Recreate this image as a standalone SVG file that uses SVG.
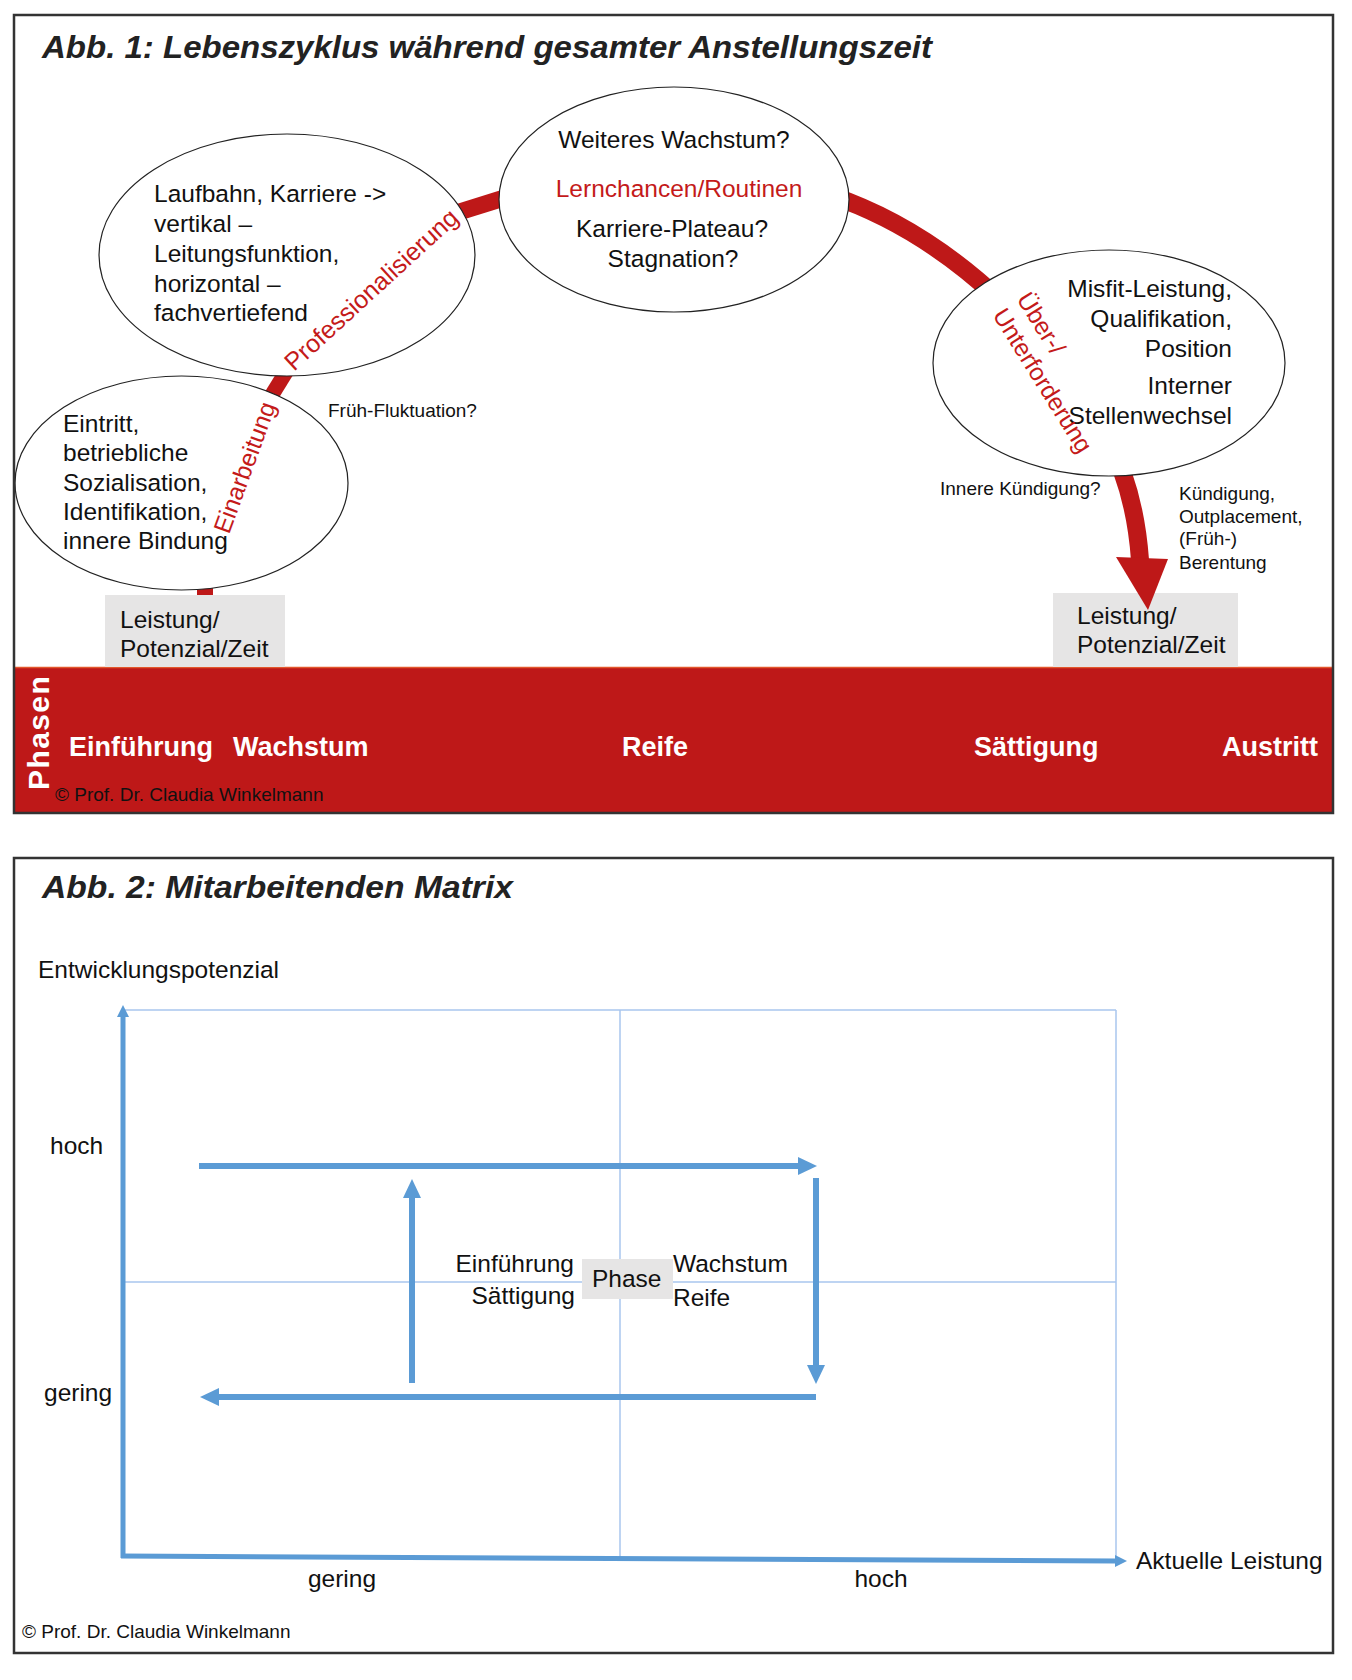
<svg xmlns="http://www.w3.org/2000/svg" width="1352" height="1680" viewBox="0 0 1352 1680">
<style>
 text { font-family: "Liberation Sans", Arial, Helvetica, sans-serif; fill:#111; }
 .t { font-size:24.5px; }
 .s { font-size:19px; }
 .red { fill:#C41A1A; }
 .title { font-size:31px; font-weight:bold; font-style:italic; fill:#222; }
 .phase { font-size:27px; font-weight:bold; fill:#fff; }
 .ell { fill:#fff; stroke:#222; stroke-width:1.2; }
 .box { fill:#E6E5E5; }
 .band { fill:none; stroke:#BE1818; }
 .frame { fill:none; stroke:#333; stroke-width:2.5; }
 .grid { stroke:#A9C6EE; stroke-width:1.5; fill:none; }
 .blue { stroke:#5B9BD5; fill:none; }
</style>
<defs>
 <marker id="bh" markerUnits="userSpaceOnUse" markerWidth="20" markerHeight="20" viewBox="0 -10 20 20" refX="0" refY="0" orient="auto"><path d="M0,-9 L19,0 L0,9 z" fill="#5B9BD5"/></marker>
 <marker id="ah" markerUnits="userSpaceOnUse" markerWidth="14" markerHeight="14" viewBox="0 -7 14 14" refX="0" refY="0" orient="auto"><path d="M0,-6 L12,0 L0,6 z" fill="#5B9BD5"/></marker>
</defs>
<rect x="0" y="0" width="1352" height="1680" fill="#fff"/>

<!-- ===== Figure 1 ===== -->
<g id="fig1">
 <rect x="15" y="667" width="1318" height="145" fill="#BE1818"/>
 <line x1="15" y1="667.5" x2="1333" y2="667.5" stroke="#E2572C" stroke-width="1.5"/>
 <text class="title" x="42" y="58" textLength="890" lengthAdjust="spacingAndGlyphs">Abb. 1: Lebenszyklus während gesamter Anstellungszeit</text>
</g>

<g id="phases">
 <text transform="translate(49,790) rotate(-90)" style="font-size:30px;font-weight:bold;fill:#fff;letter-spacing:1.4px">Phasen</text>
 <text class="phase" x="69" y="756">Einführung</text>
 <text class="phase" x="233" y="756">Wachstum</text>
 <text class="phase" x="622" y="756">Reife</text>
 <text class="phase" x="974" y="756">Sättigung</text>
 <text class="phase" x="1222" y="756">Austritt</text>
 <text class="s" x="55" y="801">© Prof. Dr. Claudia Winkelmann</text>
</g>

<g id="box-right">
 <rect class="box" x="1053" y="593" width="185" height="74"/>
 <text class="t" x="1077" y="624">Leistung/</text>
 <text class="t" x="1077" y="653">Potenzial/Zeit</text>
</g>

<g id="connectors">
 <path class="band" d="M205,560 L205,596" stroke-width="16"/>
 <path class="band" d="M257,419 L299,351" stroke-width="15"/>
 <path class="band" d="M440,218 L530,190" stroke-width="17"/>
 <path class="band" d="M830,195 Q920,225 1000,300" stroke-width="18"/>
 <path class="band" d="M1108,440 Q1135,490 1140,560" stroke-width="18"/>
 <polygon points="1116,557 1168,559 1148,610" fill="#BE1818"/>
</g>

<g id="box-left">
 <rect class="box" x="105" y="595" width="180" height="72"/>
 <text class="t" x="120" y="628">Leistung/</text>
 <text class="t" x="120" y="657">Potenzial/Zeit</text>
</g>

<g id="node-eintritt">
 <ellipse class="ell" cx="181.5" cy="483" rx="166.5" ry="107"/>
 <text class="t" x="63" y="432">Eintritt,</text>
 <text class="t" x="63" y="461">betriebliche</text>
 <text class="t" x="63" y="491">Sozialisation,</text>
 <text class="t" x="63" y="520">Identifikation,</text>
 <text class="t" x="63" y="549">innere Bindung</text>
 <text class="t red" transform="translate(229,535) rotate(-70)">Einarbeitung</text>
</g>

<g id="node-laufbahn">
 <ellipse class="ell" cx="287" cy="255" rx="188" ry="121"/>
 <text class="t" x="154" y="202">Laufbahn, Karriere -&gt;</text>
 <text class="t" x="154" y="232">vertikal –</text>
 <text class="t" x="154" y="262">Leitungsfunktion,</text>
 <text class="t" x="154" y="292">horizontal –</text>
 <text class="t" x="154" y="321">fachvertiefend</text>
 <text class="t red" style="font-size:25px" transform="translate(294,372) rotate(-42.5)">Professionalisierung</text>
</g>

<g id="node-wachstum">
 <ellipse class="ell" cx="674" cy="199.5" rx="175" ry="112.5"/>
 <text class="t" x="674" y="148" text-anchor="middle">Weiteres Wachstum?</text>
 <text class="t red" x="679" y="197" text-anchor="middle">Lernchancen/Routinen</text>
 <text class="t" x="672" y="237" text-anchor="middle">Karriere-Plateau?</text>
 <text class="t" x="673" y="267" text-anchor="middle">Stagnation?</text>
</g>

<g id="node-misfit">
 <ellipse class="ell" cx="1109" cy="363" rx="176" ry="113"/>
 <text class="t" x="1232" y="297" text-anchor="end">Misfit-Leistung,</text>
 <text class="t" x="1232" y="327" text-anchor="end">Qualifikation,</text>
 <text class="t" x="1232" y="357" text-anchor="end">Position</text>
 <text class="t" x="1232" y="394" text-anchor="end">Interner</text>
 <text class="t" x="1232" y="424" text-anchor="end">Stellenwechsel</text>
 <text class="t red" transform="translate(1016,299) rotate(58)">Über-/</text>
 <text class="t red" transform="translate(992,315) rotate(58)">Unterforderung</text>
</g>

<g id="labels-fig1">
 <text class="s" x="328" y="417">Früh-Fluktuation?</text>
 <text class="s" x="940" y="495">Innere Kündigung?</text>
 <text class="s" x="1179" y="500">Kündigung,</text>
 <text class="s" x="1179" y="523">Outplacement,</text>
 <text class="s" x="1179" y="545">(Früh-)</text>
 <text class="s" x="1179" y="569">Berentung</text>
</g>

<rect class="frame" x="14" y="15" width="1319" height="798"/>

<!-- ===== Figure 2 ===== -->
<g id="fig2">
 <text class="title" x="42" y="898" textLength="471" lengthAdjust="spacingAndGlyphs">Abb. 2: Mitarbeitenden Matrix</text>
 <text class="t" x="38" y="978">Entwicklungspotenzial</text>
</g>

<g id="matrix-grid">
 <path class="grid" d="M123,1010 H1116 M1116,1010 V1560 M620,1010 V1558 M123,1282 H1116"/>
</g>

<g id="axes">
 <path class="blue" d="M123,1558 L123,1017" stroke-width="5" marker-end="url(#ah)"/>
 <path class="blue" d="M121,1556 L1115,1561" stroke-width="5" marker-end="url(#ah)"/>
</g>

<g id="matrix-arrows">
 <path class="blue" d="M199,1166 H798" stroke-width="6" marker-end="url(#bh)"/>
 <path class="blue" d="M816,1178 V1365" stroke-width="6" marker-end="url(#bh)"/>
 <path class="blue" d="M816,1397 H219" stroke-width="6" marker-end="url(#bh)"/>
 <path class="blue" d="M412,1383 V1198" stroke-width="6" marker-end="url(#bh)"/>
</g>

<g id="node-phase">
 <rect class="box" x="582" y="1259" width="91" height="40"/>
 <text class="t" x="592" y="1287">Phase</text>
</g>

<g id="labels-fig2">
 <text class="t" x="574" y="1272" text-anchor="end">Einführung</text>
 <text class="t" x="575" y="1304" text-anchor="end">Sättigung</text>
 <text class="t" x="673" y="1272">Wachstum</text>
 <text class="t" x="673" y="1306">Reife</text>
 <text class="t" x="50" y="1154">hoch</text>
 <text class="t" x="44" y="1401">gering</text>
 <text class="t" x="342" y="1587" text-anchor="middle">gering</text>
 <text class="t" x="881" y="1587" text-anchor="middle">hoch</text>
 <text class="t" x="1136" y="1569">Aktuelle Leistung</text>
 <text class="s" x="22" y="1638">© Prof. Dr. Claudia Winkelmann</text>
</g>

<rect class="frame" x="14" y="858" width="1319" height="795"/>
</svg>
